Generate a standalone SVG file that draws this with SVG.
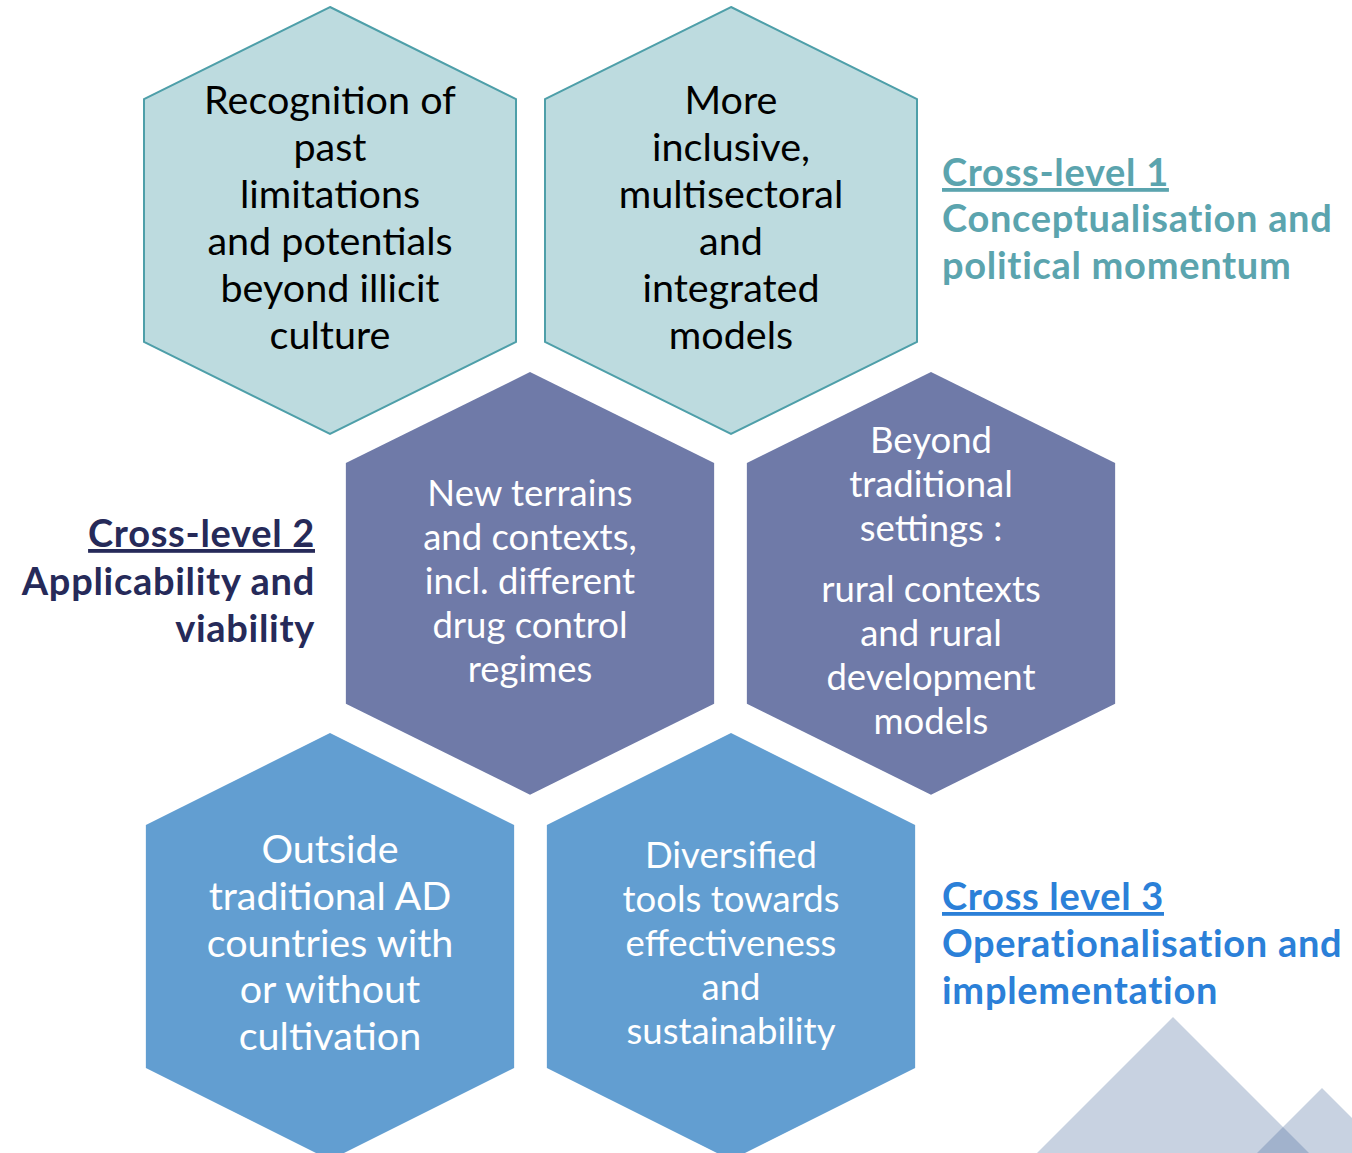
<svg xmlns="http://www.w3.org/2000/svg" width="1352" height="1153" viewBox="0 0 1352 1153">
  <style>
    .hex-a { fill: #bddbdf; stroke: #4e9fa9; stroke-width: 2; }
    .hex-b { fill: #6f7aa8; }
    .hex-c { fill: #629ed1; }
    text { font-family: Lato, "Liberation Sans", sans-serif; }
    .t { text-anchor: middle; }
    .t-dark { fill: #000000; font-size: 39.5px; }
    .t-light { fill: #ffffff; font-size: 36.5px; }
    .t-light-lg { fill: #ffffff; font-size: 39.5px; }
    .lbl { font-weight: bold; font-size: 38px; letter-spacing: 0.7px; }
    .lbl1 { fill: #5ba4ae; }
    .lbl2 { fill: #262a59; text-anchor: end; }
    .lbl3 { fill: #2b80d8; }
    .u { text-decoration: underline; }
    .tri { fill: #486a9d; fill-opacity: 0.3; }
  </style>
  <defs>
    <!-- pointy-top hexagon positioned by its top vertex at (0,0) -->
    <polygon id="hexShape" points="0,0 186,92 186,335 0,427 -186,335 -186,92"/>
  </defs>

  <!-- background decoration -->
  <g id="mountains">
    <polygon class="tri" points="1173,1017 1309,1153 1037,1153"/>
    <polygon class="tri" points="1322,1088 1387,1153 1257,1153"/>
  </g>

  <g id="connectors"></g>

  <!-- top row -->
  <g id="node-recognition" class="t t-dark">
    <use href="#hexShape" class="hex-a" transform="translate(330,7)"/>
    <text x="330" y="114">Recognition of</text>
    <text x="330" y="161">past</text>
    <text x="330" y="208">limitations</text>
    <text x="330" y="255">and potentials</text>
    <text x="330" y="302">beyond illicit</text>
    <text x="330" y="349">culture</text>
  </g>
  <g id="node-inclusive" class="t t-dark">
    <use href="#hexShape" class="hex-a" transform="translate(731,7)"/>
    <text x="731" y="114">More</text>
    <text x="731" y="161">inclusive,</text>
    <text x="731" y="208">multisectoral</text>
    <text x="731" y="255">and</text>
    <text x="731" y="302">integrated</text>
    <text x="731" y="349">models</text>
  </g>

  <!-- middle row -->
  <g id="node-terrains" class="t t-light">
    <use href="#hexShape" class="hex-b" transform="translate(530,372) scale(0.99,0.99)"/>
    <text x="530" y="506">New terrains</text>
    <text x="530" y="550">and contexts,</text>
    <text x="530" y="594">incl. different</text>
    <text x="530" y="638">drug control</text>
    <text x="530" y="682">regimes</text>
  </g>
  <g id="node-beyond" class="t t-light">
    <use href="#hexShape" class="hex-b" transform="translate(931,372) scale(0.99,0.99)"/>
    <text x="931" y="453">Beyond</text>
    <text x="931" y="497">traditional</text>
    <text x="931" y="541">settings :</text>
    <text x="931" y="602">rural contexts</text>
    <text x="931" y="646">and rural</text>
    <text x="931" y="690">development</text>
    <text x="931" y="734">models</text>
  </g>

  <!-- bottom row -->
  <g id="node-outside" class="t t-light-lg">
    <use href="#hexShape" class="hex-c" transform="translate(330,733) scale(0.99,1)"/>
    <text x="330" y="863">Outside</text>
    <text x="330" y="910">traditional AD</text>
    <text x="330" y="957">countries with</text>
    <text x="330" y="1003">or without</text>
    <text x="330" y="1050">cultivation</text>
  </g>
  <g id="node-tools" class="t t-light">
    <use href="#hexShape" class="hex-c" transform="translate(731,733) scale(0.99,1)"/>
    <text x="731" y="868">Diversified</text>
    <text x="731" y="912">tools towards</text>
    <text x="731" y="956">effectiveness</text>
    <text x="731" y="1000">and</text>
    <text x="731" y="1044">sustainability</text>
  </g>

  <!-- level labels -->
  <g id="label-level1" class="lbl lbl1">
    <text x="942" y="186" class="u">Cross-level 1</text>
    <text x="942" y="232">Conceptualisation and</text>
    <text x="942" y="279">political momentum</text>
  </g>
  <g id="label-level2" class="lbl lbl2">
    <text x="315" y="547" class="u">Cross-level 2</text>
    <text x="315" y="595">Applicability and</text>
    <text x="315" y="642">viability</text>
  </g>
  <g id="label-level3" class="lbl lbl3">
    <text x="942" y="910" class="u">Cross level 3</text>
    <text x="942" y="957">Operationalisation and</text>
    <text x="942" y="1004">implementation</text>
  </g>
</svg>
